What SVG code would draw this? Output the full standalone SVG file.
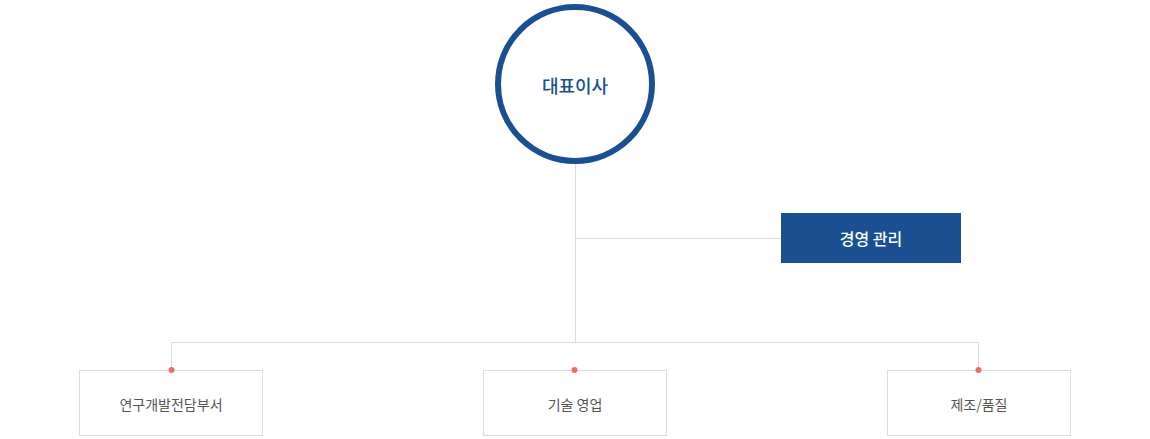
<svg xmlns="http://www.w3.org/2000/svg" width="1150" height="439" viewBox="0 0 1150 439">
<style>
.ln{stroke:#dcdcdc;stroke-width:1;fill:none}
.box{fill:#fff;stroke:#dcdcdc;stroke-width:1}
.dot{fill:#f26b6b}
.t{font-family:"Noto Sans CJK KR","Noto Sans",sans-serif;text-anchor:middle;dominant-baseline:central}
.sub{font-size:14px;fill:#555}
</style>
<rect width="1150" height="439" fill="#fff"/>
<g id="ceo">
<circle cx="575" cy="84" r="77" fill="#fff" stroke="#1a5091" stroke-width="6"/>
<text class="t" x="575" y="85" font-size="18" font-weight="500" fill="#1a4f8e">대표이사</text>
</g>
<g id="management">
<rect x="781" y="213" width="180" height="50" fill="#1a5091"/>
<text class="t" x="871" y="238" font-size="16" font-weight="500" fill="#fff">경영 관리</text>
</g>
<g id="rnd">
<rect class="box" x="79.5" y="370.5" width="183" height="65"/>
<text class="t sub" x="171" y="404">연구개발전담부서</text>
</g>
<g id="sales">
<rect class="box" x="483.5" y="370.5" width="183" height="65"/>
<text class="t sub" x="575" y="404">기술 영업</text>
</g>
<g id="quality">
<rect class="box" x="887.5" y="370.5" width="183" height="65"/>
<text class="t sub" x="979" y="404">제조/품질</text>
</g>
<g id="connectors">
<path class="ln" d="M575.5 164V342"/>
<path class="ln" d="M575.5 238.5H781"/>
<path class="ln" d="M171.5 370V342.5H978.5V370"/>
<circle class="dot" cx="171.5" cy="370" r="3"/>
<circle class="dot" cx="574.5" cy="370" r="3"/>
<circle class="dot" cx="978.5" cy="370" r="3"/>
</g>
</svg>
